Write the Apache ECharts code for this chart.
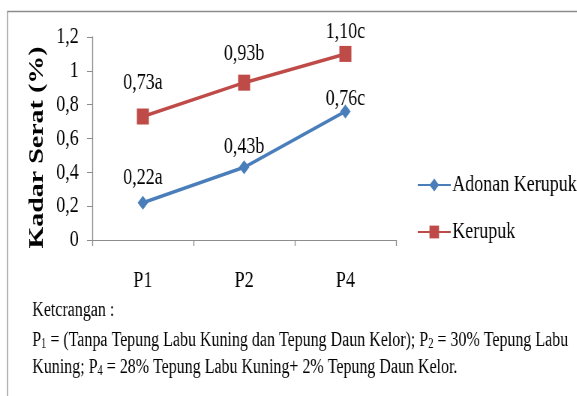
<!DOCTYPE html>
<html>
<head>
<meta charset="utf-8">
<script src="https://cdn.jsdelivr.net/npm/echarts@6/dist/echarts.min.js"></script>
<style>
html,body{margin:0;padding:0;background:#fff;overflow:hidden;width:577px;height:396px;}
/* the figure is laid out wide and squeezed horizontally, like the condensed type of the original document */
#chart{width:770px;height:396px;transform:scaleX(0.75);transform-origin:0 0;}
</style>
</head>
<body>
<div id="chart"></div>
<script>
// Treatments and fibre content (%) per product
const categories = ['P1', 'P2', 'P4'];
const adonanKerupuk = [0.22, 0.43, 0.76];
const kerupuk = [0.73, 0.93, 1.10];
const adonanLetters = ['a', 'b', 'c'];
const kerupukLetters = ['a', 'b', 'c'];
const yTicks = [0, 0.2, 0.4, 0.6, 0.8, 1, 1.2];

const SERIF = '"Liberation Serif", "Times New Roman", serif';
const BLUE = '#4a7ebb';
const RED = '#be4b48';
const AXIS = '#8c8c8c';

function fmt(v) { return String(v).replace('.', ','); }
function fmt2(v) { return v.toFixed(2).replace('.', ','); }

// label gaps above each point
const adonanGap = [6, 2, -6];
const kerupukGap = [14, 9, 2];

function seriesData(values, letters, gaps) {
  return values.map((v, i) => ({
    value: v,
    label: { distance: gaps[i], formatter: fmt2(v) + letters[i] }
  }));
}

const rich = {
  p: { fontFamily: SERIF, fontSize: 21.3, fill: '#000' },
  s: { fontFamily: SERIF, fontSize: 14, fill: '#000', padding: [8, 0, 0, 0] }
};

const chart = echarts.init(document.getElementById('chart'));
chart.setOption({
  animation: false,
  grid: { left: 123, right: 242, top: 37, bottom: 156 },
  xAxis: {
    type: 'category',
    data: categories,
    boundaryGap: true,
    axisLine: { lineStyle: { color: AXIS, width: 1 } },
    axisTick: { show: true, length: 6, lineStyle: { color: AXIS, width: 1.3 } },
    axisLabel: { color: '#000', fontFamily: SERIF, fontSize: 24, margin: 29 }
  },
  yAxis: {
    type: 'value',
    min: yTicks[0], max: yTicks[yTicks.length - 1], interval: yTicks[1] - yTicks[0],
    name: 'Kadar Serat (%)',
    nameLocation: 'middle',
    nameGap: 58,
    nameTextStyle: {
      fontFamily: SERIF, fontWeight: 'bold', fontSize: 28, color: '#000',
      padding: [0, 18, 0, 0]
    },
    axisLine: { show: true, lineStyle: { color: AXIS, width: 1.3 } },
    axisTick: { show: true, length: 7, lineStyle: { color: AXIS } },
    splitLine: { show: false },
    axisLabel: {
      color: '#000', fontFamily: SERIF, fontSize: 24, margin: 18,
      formatter: v => fmt(Math.round(v * 10) / 10)
    }
  },
  legend: {
    orient: 'vertical',
    left: 551, top: 168,
    itemGap: 23,
    itemWidth: 44, itemHeight: 16,
    textStyle: { fontFamily: SERIF, fontSize: 24, color: '#000', padding: [0, 0, 0, -3] },
    data: ['Adonan Kerupuk', 'Kerupuk']
  },
  series: [
    {
      name: 'Adonan Kerupuk',
      type: 'line',
      data: seriesData(adonanKerupuk, adonanLetters, adonanGap),
      symbol: 'diamond', symbolSize: 14,
      lineStyle: { color: BLUE, width: 3.5 },
      itemStyle: { color: BLUE },
      label: { show: true, position: 'top', fontFamily: SERIF, fontSize: 24, color: '#000' }
    },
    {
      name: 'Kerupuk',
      type: 'line',
      data: seriesData(kerupuk, kerupukLetters, kerupukGap),
      symbol: 'rect', symbolSize: 16,
      lineStyle: { color: RED, width: 3.5 },
      itemStyle: { color: RED },
      label: { show: true, position: 'top', fontFamily: SERIF, fontSize: 24, color: '#000' }
    }
  ],
  graphic: [
    {
      type: 'rect', silent: true, z: -1,
      shape: { x: 10, y: 11.5, width: 800, height: 420 },
      style: { fill: 'none', stroke: AXIS, lineWidth: 1.3 }
    },
    {
      type: 'text', x: 43, y: 310,
      style: { text: 'Ketcrangan :', font: '21.3px ' + SERIF, fill: '#000', verticalAlign: 'middle' }
    },
    {
      type: 'text', x: 43, y: 340,
      style: {
        text: '{p|P}{s|1}{p| = (Tanpa Tepung Labu Kuning dan Tepung Daun Kelor); P}{s|2}{p| = 30% Tepung Labu}',
        verticalAlign: 'middle', rich
      }
    },
    {
      type: 'text', x: 43, y: 367,
      style: {
        text: '{p|Kuning; P}{s|4}{p| = 28% Tepung Labu Kuning+ 2% Tepung Daun Kelor.}',
        verticalAlign: 'middle', rich
      }
    }
  ]
});
</script>
</body>
</html>
